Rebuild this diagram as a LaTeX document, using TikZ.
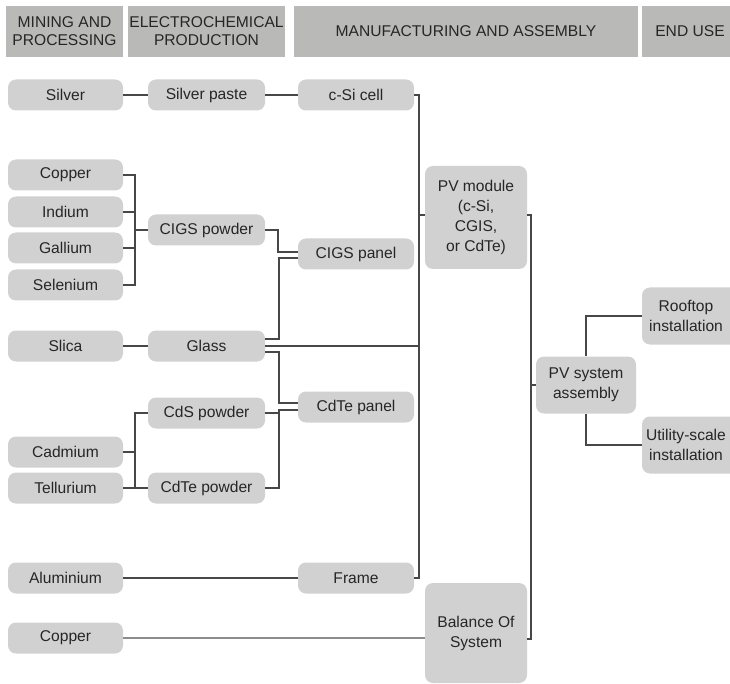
\documentclass[tikz,border=0pt]{standalone}
\usepackage{fontspec}
\setmainfont{Liberation Sans}
\usetikzlibrary{positioning}
\definecolor{headgray}{HTML}{B9B9B7}
\definecolor{boxgray}{HTML}{D1D1D1}
\definecolor{textgray}{HTML}{262626}
\definecolor{linegray}{HTML}{474747}
\definecolor{lightline}{HTML}{8C8C8C}

\begin{document}
\begin{tikzpicture}[x=1pt, y=-1pt, font=\fontsize{15.6}{20}\selectfont]

		% Define block styles
		\tikzstyle{header} = [rectangle, fill=headgray, text=textgray, minimum height=51pt, inner sep=0pt, align=center, font=\fontsize{15.6}{18}\selectfont]
		\tikzstyle{box} = [rectangle, rounded corners=8pt, fill=boxgray, text=textgray, minimum height=31pt, minimum width=115pt, inner sep=2pt, align=center]
		\tikzstyle{bigbox} = [box, minimum width=102pt, minimum height=102pt]
		\tikzstyle{midbox} = [box, minimum width=100pt, minimum height=57pt]
		\tikzstyle{endtext} = [text=textgray, align=center, inner sep=0pt]
		\tikzstyle{link} = [draw=linegray, line width=2pt]

		\useasboundingbox (0,0) rectangle (730,684);

		% Column headers
		\node[header, minimum width=117pt] (hmine) at (64.5,31.5) {MINING AND\\PROCESSING};
		\node[header, minimum width=157pt] (helec) at (206.5,31.5) {ELECTROCHEMICAL\\PRODUCTION};
		\node[header, minimum width=344pt] (hmanu) at (466,31.5) {MANUFACTURING AND ASSEMBLY};
		\node[header, minimum width=96pt] (hend) at (690,31.5) {END USE};

		% Raw materials
		\node[box] (silver) at (65.5,95) {Silver};
		\node[box] (copper) at (65.5,175) {Copper};
		\node[box] (indium) at (65.5,212) {Indium};
		\node[box] (gallium) at (65.5,248) {Gallium};
		\node[box] (selenium) at (65.5,285) {Selenium};
		\node[box] (slica) at (65.5,346) {Slica};
		\node[box] (cadmium) at (65.5,452) {Cadmium};
		\node[box] (tellurium) at (65.5,488) {Tellurium};
		\node[box] (aluminium) at (65.5,578) {Aluminium};
		\node[box] (copperb) at (65.5,638) {Copper};

		% Electrochemical products
		\node[box, minimum width=117pt, right of=silver, node distance=141pt] (paste) {Silver paste};
		\node[box, minimum width=117pt] (cigspow) at (206.5,230) {CIGS powder};
		\node[box, minimum width=117pt, right of=slica, node distance=141pt] (glass) {Glass};
		\node[box, minimum width=117pt] (cdspow) at (206.5,413) {CdS powder};
		\node[box, minimum width=117pt, right of=tellurium, node distance=141pt] (cdtepow) {CdTe powder};

		% Components
		\node[box, minimum width=116pt, right of=paste, node distance=149.5pt] (csicell) {c-Si cell};
		\node[box, minimum width=116pt] (cigspan) at (356,254) {CIGS panel};
		\node[box, minimum width=116pt] (cdtepan) at (356,407) {CdTe panel};
		\node[box, minimum width=116pt] (frame) at (356,578) {Frame};
		\node[bigbox, minimum height=103pt] (pvmod) at (476,217.5) {PV module\\(c-Si,\\CGIS,\\or CdTe)};
		\node[bigbox, minimum height=100pt] (bos) at (476,633) {Balance Of\\System};
		\node[midbox] (pvsys) at (586,385) {PV system\\assembly};

		% End use (boxes run off the right edge)
		\node[midbox] (roof) at (692,316) {};
		\node[endtext] (rooftext) at (686,316) {Rooftop\\installation};
		\node[midbox] (utility) at (692,445) {};
		\node[endtext] (utilitytext) at (686,445) {Utility-scale\\installation};

		% Junctions
		\coordinate (cigsjoin) at (135,230);
		\coordinate (modjoin) at (419,215);

		% Links
		\draw[link] (silver) -- (paste);
		\draw[link] (paste) -- (csicell);
		\draw[link] (copper.east) -| (cigsjoin);
		\draw[link] (selenium.east) -| (cigsjoin);
		\draw[link] (indium.east) -- (indium.east -| cigsjoin);
		\draw[link] (gallium.east) -- (gallium.east -| cigsjoin);
		\draw[link] (cigsjoin) -- (cigspow.west);
		\draw[link] (slica) -- (glass);
		\draw[link] (cdspow.west) -- ++(-13,0) |- (cdtepow.west);
		\draw[link] (cadmium.east) -- ++(12,0);
		\draw[link] (tellurium) -- (cdtepow);
		\draw[link] (aluminium) -- (frame);
		\draw[lightline, line width=1.5pt] (copperb.east) -- (copperb.east -| bos.west);

		\draw[link] (cigspow.east) -- ++(13,0) |- ([yshift=2pt]cigspan.west);
		\draw[link] ([yshift=7pt]glass.east) -- ++(14,0) |- ([yshift=-4pt]cigspan.west);
		\draw[link] ([yshift=-6pt]glass.east) -- ++(14,0) |- ([yshift=4pt]cdtepan.west);
		\draw[link] (cdspow.east) -- ++(14,0);
		\draw[link] (cdtepow.east) -- ++(14,0) |- ([yshift=-3pt]cdtepan.west);

		\draw[link] (csicell.east) -- ++(5,0) |- (frame.east);
		\draw[link] (glass.east) -- (glass.east -| modjoin);
		\draw[link] (modjoin) -- (modjoin -| pvmod.west);

		\draw[link] ([yshift=2.5pt]pvmod.east) -- ++(4,0) |- ([yshift=-6pt]bos.east);
		\draw[link] (pvsys.west) -- ++(-5,0);
		\draw[link] (pvsys.north) |- (roof.west);
		\draw[link] (pvsys.south) |- (utility.west);

	\end{tikzpicture}
\end{document}
